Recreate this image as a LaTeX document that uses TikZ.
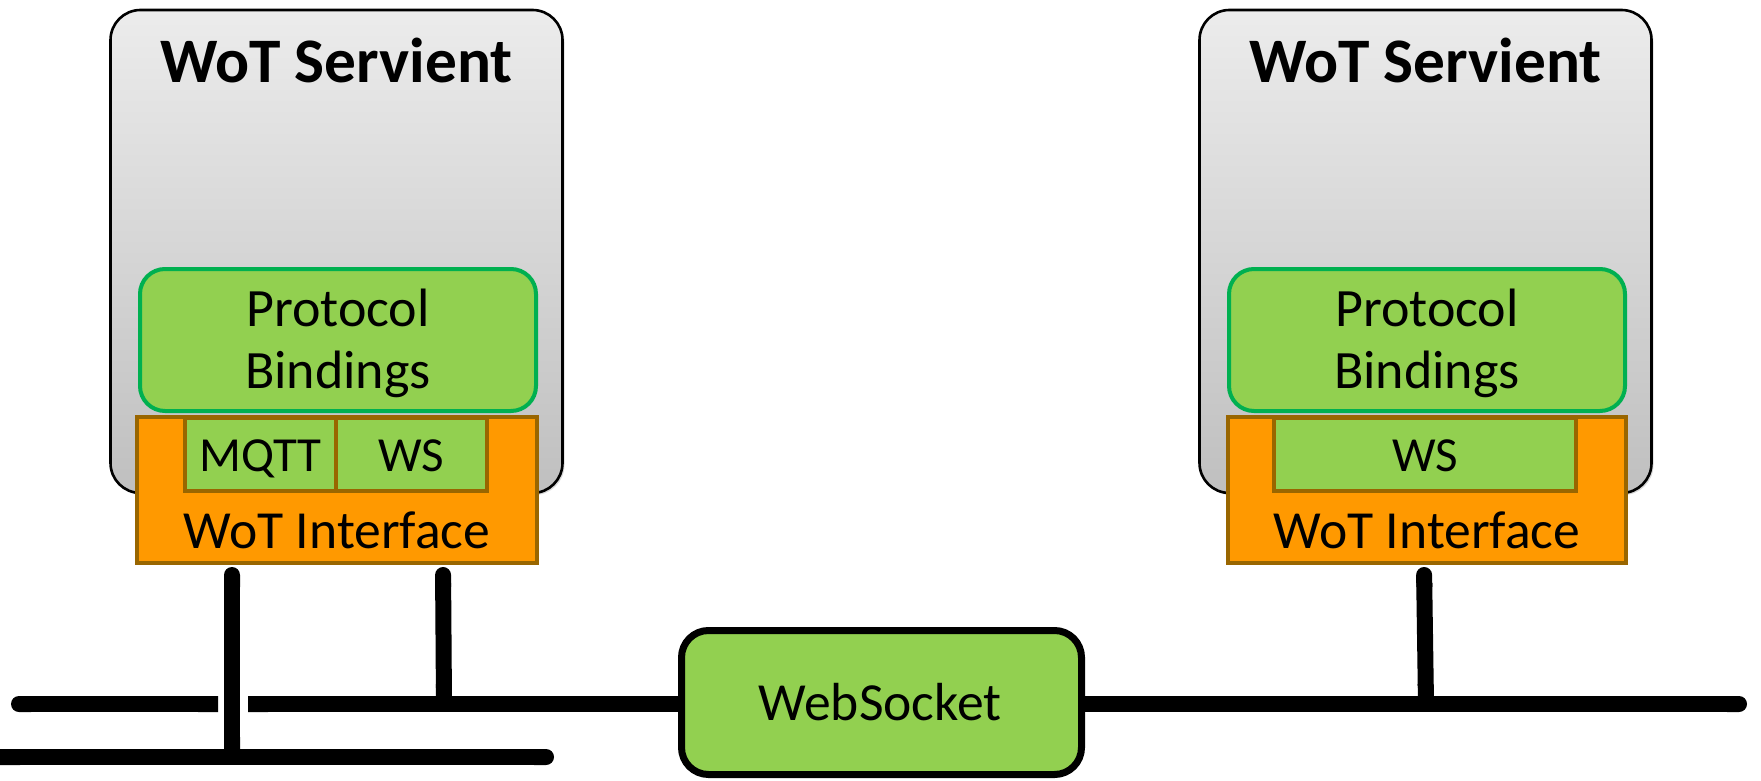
\documentclass[tikz,border=0pt]{standalone}
\usepackage{fontspec}
\setmainfont{Carlito}
\usetikzlibrary{arrows.meta,shadows}
\definecolor{pbgreen}{HTML}{92D050}
\definecolor{pbedge}{HTML}{00B050}
\definecolor{iforange}{HTML}{FF9900}
\definecolor{ifedge}{HTML}{996600}
\pgfdeclarelayer{wires}
\pgfsetlayers{wires,main}

\begin{document}
\begin{tikzpicture}[x=0.5pt,y=-0.5pt,
  box/.style={inner sep=0pt, outer sep=0pt},
  servient/.style={box, draw=black, line width=1.3pt, rounded corners=15pt,
    top color=gray!15, bottom color=gray!50,
    minimum width=226pt, minimum height=241.5pt,
    drop shadow={shadow xshift=1pt, shadow yshift=-1pt, opacity=0.3}},
  bindings/.style={box, draw=pbedge, fill=pbgreen, line width=2pt,
    rounded corners=12.5pt, minimum width=198pt, minimum height=71pt},
  iface/.style={box, draw=ifedge, fill=iforange, line width=2pt,
    minimum width=200pt, minimum height=73pt},
  proto/.style={box, draw=ifedge, fill=pbgreen, line width=2.2pt,
    minimum height=36.5pt},
  netbox/.style={box, draw=black, fill=pbgreen, line width=3.5pt,
    rounded corners=13.5pt, minimum width=200pt, minimum height=72pt},
  title/.style={anchor=base, inner sep=0pt, font=\bfseries\fontsize{31.7}{38}\selectfont},
  bigtxt/.style={anchor=base, inner sep=0pt, font=\fontsize{27}{32}\selectfont},
  txt/.style={anchor=base, inner sep=0pt, font=\fontsize{24.5}{29}\selectfont},
  widetxt/.style={anchor=base, inner sep=0pt, font=\fontsize{26.8}{32}\selectfont},
  bus/.style={draw=black, line width=8pt}
]
\useasboundingbox (0,0) rectangle (1761,781);

% --- left servient ---
\node[servient] (svL) at (336.5,251.5) {};
\node[title] (svLt) at (336.5,83) {WoT Servient};
\node[bindings] (pbL) at (338,340) {};
\node[bigtxt] (pbLa) at (338,326) {Protocol};
\node[bigtxt] (pbLb) at (338,388) {Bindings};
\node[iface] (ifL) at (337,490) {};
\node[proto, minimum width=75.5pt] (mqttL) at (260.5,454.5) {};
\node[proto, minimum width=75.5pt] (wsL) at (411.5,454.5) {};
\node[txt] (mqttLt) at (260.5,471) {MQTT};
\node[txt] (wsLt) at (411.5,471) {WS};
\node[widetxt] (ifLt) at (337,548) {WoT Interface};

% --- right servient ---
\node[servient] (svR) at (1425.5,251.5) {};
\node[title] (svRt) at (1425.5,83) {WoT Servient};
\node[bindings] (pbR) at (1427,340) {};
\node[bigtxt] (pbRa) at (1427,326) {Protocol};
\node[bigtxt] (pbRb) at (1427,388) {Bindings};
\node[iface, minimum width=199pt] (ifR) at (1427,490) {};
\node[proto, minimum width=151pt] (wsR) at (1425,454.5) {};
\node[txt] (wsRt) at (1425,471) {WS};
\node[widetxt] (ifRt) at (1427,548) {WoT Interface};

% --- WebSocket link ---
\node[netbox] (ws) at (881.5,702.5) {};
\node[widetxt] (wst) at (880,720) {WebSocket};

% --- network lines ---
\coordinate (busA) at (11,704);
\coordinate (busB) at (218,704);
\coordinate (busC) at (248,704);
\coordinate (busD) at (1747,704);
\coordinate (lowA) at (0,757);
\coordinate (lowB) at (554,757);
\coordinate (v1) at (232,567);
\coordinate (v2) at (443,567);
\coordinate (v3) at (1424,567);
\coordinate (v2b) at (444,704);
\coordinate (v3b) at (1426,704);

\begin{pgfonlayer}{wires}
\draw[bus, {Round Cap[]}-{Butt Cap[]}] (v1) -- (v1 |- lowA);
\draw[bus, {Round Cap[]}-{Butt Cap[]}] (v2) -- (v2b);
\draw[bus, {Round Cap[]}-{Butt Cap[]}] (v3) -- (v3b);
\draw[bus, {Round Cap[]}-{Butt Cap[]}] (busA) -- (busB);
\draw[bus, {Butt Cap[]}-{Butt Cap[]}] (busC) -- (busC -| ws.center);
\draw[bus, {Butt Cap[]}-{Round Cap[]}] (busD -| ws.center) -- (busD);
\draw[bus, {Butt Cap[]}-{Round Cap[]}] (lowA) -- (lowB);
\end{pgfonlayer}
\end{tikzpicture}
\end{document}
